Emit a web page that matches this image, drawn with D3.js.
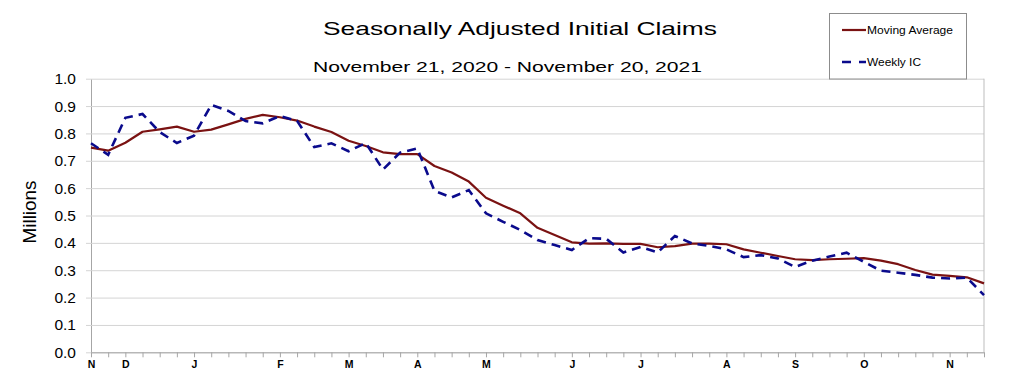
<!DOCTYPE html>
<html>
<head>
<meta charset="utf-8">
<script src="https://cdn.jsdelivr.net/npm/d3@7"></script>
<style>
  body { margin: 0; background: #fff; }
  svg { display: block; font-family: "Liberation Sans", Arial, sans-serif; }
</style>
</head>
<body>
<div id="chart"></div>
<script>
// week ending dates run Saturday to Saturday
var startWeek = "2020-11-21";
var endWeek = "2021-11-20";

// 4-week moving average, millions
var movingAverage = [
  0.748, 0.737, 0.766, 0.806, 0.815, 0.825, 0.806, 0.814, 0.833, 0.853,
  0.868, 0.859, 0.847, 0.825, 0.805, 0.773, 0.754, 0.731, 0.724, 0.724,
  0.681, 0.657, 0.624, 0.565, 0.536, 0.508, 0.455, 0.429, 0.402, 0.397,
  0.398, 0.396, 0.396, 0.384, 0.388, 0.397, 0.397, 0.395, 0.376, 0.364,
  0.352, 0.340, 0.337, 0.340, 0.342, 0.344, 0.335, 0.322, 0.301, 0.284,
  0.279, 0.274, 0.252
];

// weekly initial claims, millions
var weeklyIC = [
  0.764, 0.722, 0.857, 0.871, 0.805, 0.765, 0.792, 0.904, 0.882, 0.845,
  0.837, 0.864, 0.846, 0.750, 0.764, 0.735, 0.765, 0.668, 0.730, 0.745,
  0.590, 0.566, 0.593, 0.508, 0.477, 0.447, 0.410, 0.392, 0.374, 0.417,
  0.415, 0.365, 0.385, 0.365, 0.425, 0.398, 0.389, 0.376, 0.348, 0.355,
  0.343, 0.312, 0.335, 0.350, 0.364, 0.331, 0.298, 0.291, 0.283, 0.273,
  0.270, 0.273, 0.209
];

// month labels sit on the first saturday of each month
var monthTickDates = ["2020-11-21", "2020-12-05", "2021-01-02", "2021-02-06", "2021-03-06",
  "2021-04-03", "2021-05-01", "2021-06-05", "2021-07-03", "2021-08-07", "2021-09-04",
  "2021-10-02", "2021-11-06"];
var monthTickLabels = ["N", "D", "J", "F", "M", "A", "M", "J", "J", "A", "S", "O", "N"];

var yTicks = [0, 0.1, 0.2, 0.3, 0.4, 0.5, 0.6, 0.7, 0.8, 0.9, 1.0];

var parse = d3.utcParse("%Y-%m-%d");
var weeks = d3.utcSaturday.range(parse(startWeek), d3.utcDay.offset(parse(endWeek), 1));

var width = 1014, height = 384;
var plotLeft = 91, plotRight = 984, plotTop = 78.7, plotBottom = 352.3;

var svg = d3.select('#chart').append('svg')
  .attr('width', width)
  .attr('height', height);

var x = d3.scaleUtc()
  .domain([weeks[0], weeks[weeks.length - 1]])
  .range([plotLeft, plotRight]);

var y = d3.scaleLinear()
  .domain([0, 1])
  .range([plotBottom, plotTop]);

// gridlines + y axis
var yAxis = svg.append('g')
  .attr('transform', 'translate(' + plotLeft + ',0)')
  .call(d3.axisLeft(y).tickValues(yTicks).tickSize(-(plotRight - plotLeft)).tickSizeOuter(0)
    .tickFormat(d3.format('.1f')));
yAxis.select('.domain').attr('stroke', '#a6a6a6');
yAxis.selectAll('.tick line').attr('stroke', '#d4d4d4').attr('x1', -5);
yAxis.selectAll('.tick text')
  .attr('x', -15)
  .attr('fill', '#000')
  .style('font-size', '15.5px');

// right border of the plot
svg.append('line')
  .attr('x1', plotRight).attr('x2', plotRight)
  .attr('y1', plotTop).attr('y2', plotBottom)
  .attr('stroke', '#bdbdbd');

// x axis, one tick per week
var monthMap = {};
monthTickDates.forEach(function(d, i) { monthMap[+parse(d)] = monthTickLabels[i]; });

var xAxis = svg.append('g')
  .attr('transform', 'translate(0,' + plotBottom + ')')
  .call(d3.axisBottom(x).tickValues(weeks).tickSize(5).tickSizeOuter(0)
    .tickFormat(function(d) { return monthMap[+d] || ''; }));
xAxis.select('.domain').attr('stroke', '#a6a6a6');
xAxis.selectAll('.tick line').attr('stroke', '#a6a6a6');
xAxis.selectAll('.tick text')
  .attr('y', 8)
  .attr('fill', '#000')
  .style('font-size', '10.5px')
  .style('font-weight', 'bold');

// lines
var line = function(vals) {
  return d3.line()
    .x(function(d, i) { return x(weeks[i]); })
    .y(function(d) { return y(d); })(vals);
};

svg.append('path')
  .attr('d', line(movingAverage))
  .attr('fill', 'none')
  .attr('stroke', '#7a1212')
  .attr('stroke-width', 2.2)
  .attr('stroke-linejoin', 'round');

svg.append('path')
  .attr('d', line(weeklyIC))
  .attr('fill', 'none')
  .attr('stroke', '#0a0a8c')
  .attr('stroke-width', 2.6)
  .attr('stroke-dasharray', '9,6');

// titles, stretched to the widths in the picture
function fitText(t, w) {
  t.attr('textLength', w).attr('lengthAdjust', 'spacingAndGlyphs');
}
svg.append('text')
  .attr('x', 520).attr('y', 35)
  .attr('text-anchor', 'middle')
  .style('font-size', '19px')
  .text('Seasonally Adjusted Initial Claims')
  .call(fitText, 394);

svg.append('text')
  .attr('x', 507.5).attr('y', 71.5)
  .attr('text-anchor', 'middle')
  .style('font-size', '15px')
  .text('November 21, 2020 - November 20, 2021')
  .call(fitText, 389);

svg.append('text')
  .attr('transform', 'translate(36,212) rotate(-90)')
  .attr('text-anchor', 'middle')
  .style('font-size', '18px')
  .text('Millions')
  .call(fitText, 63);

// legend
var legend = svg.append('g');
legend.append('rect')
  .attr('x', 829.5).attr('y', 13.5)
  .attr('width', 137).attr('height', 65.5)
  .attr('fill', '#fff')
  .attr('stroke', '#8c8c8c');

var legendItems = [
  {label: 'Moving Average', color: '#7a1212', dash: null, width: 2.2},
  {label: 'Weekly IC', color: '#0a0a8c', dash: '9,8', width: 2.6}
];
legendItems.forEach(function(d, i) {
  var ly = 30 + i * 32;
  legend.append('line')
    .attr('x1', 842).attr('x2', 866)
    .attr('y1', ly).attr('y2', ly)
    .attr('stroke', d.color)
    .attr('stroke-width', d.width)
    .attr('stroke-dasharray', d.dash);
  legend.append('text')
    .attr('x', 867).attr('y', ly + 3.5)
    .style('font-size', '10.5px')
    .text(d.label)
    .call(fitText, i === 0 ? 86 : 54);
});
</script>
</body>
</html>
